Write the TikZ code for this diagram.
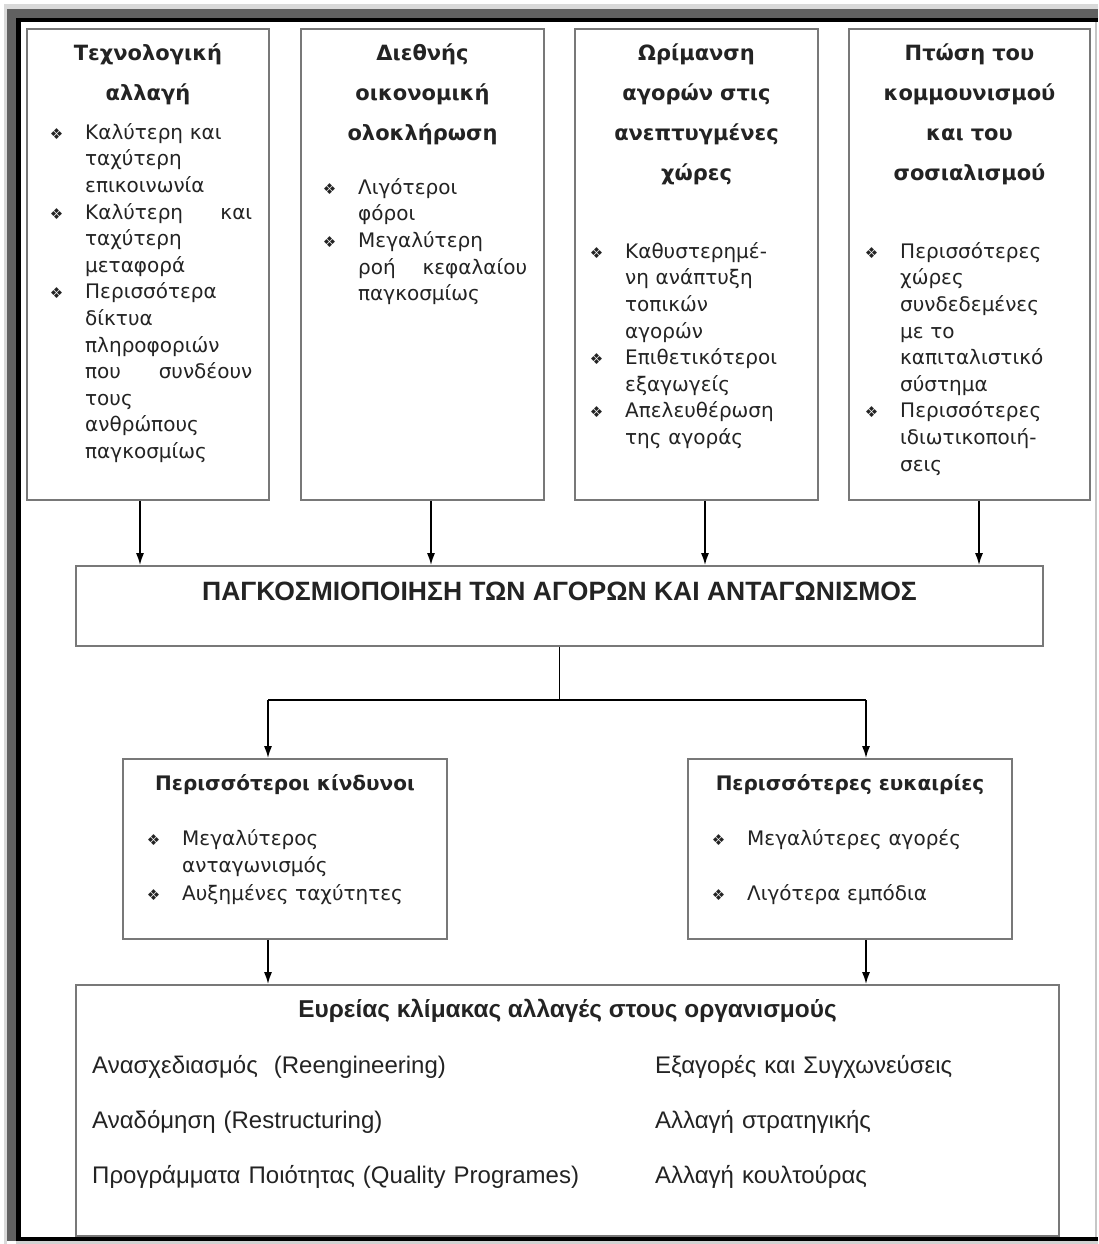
\documentclass[tikz,border=0pt]{standalone}
\usepackage{fontspec}
\setmainfont{DejaVu Sans}
\newfontfamily\arialf{Liberation Sans}
\usetikzlibrary{arrows.meta}
\definecolor{boxgray}{RGB}{120,120,120}
\definecolor{txt}{RGB}{35,35,35}
\newcommand\bsym{{\fontsize{15}{15}\selectfont ❖}}
\newcommand\bl{\leavevmode\llap{\bsym\hspace*{22pt}}}
\newcommand\st{\rule{0pt}{17pt}}
\newcommand\stb{\rule{0pt}{21pt}}
\tikzset{
  box/.style={draw=boxgray, line width=1.6pt, fill=white, inner sep=0pt},
  ttl/.style={anchor=north, inner sep=0pt, align=center, text width=230pt, text=txt,
    font={\bfseries\fontsize{21}{40}\selectfont}},
  body/.style={anchor=north west, inner sep=0pt, align=left, text=txt,
    font={\fontsize{20}{26.6}\selectfont}},
  arr/.style={line width=1.8pt, -{Latex[length=12pt,width=8pt]}},
  ln/.style={line width=1.8pt}
}
\begin{document}
\begin{tikzpicture}[x=1pt,y=-1pt]
\useasboundingbox (0,0) rectangle (1098,1244);
% frame
\fill[gray!30] (4,4) rectangle (1098,9);
\fill[gray!30] (4,4) rectangle (7,1244);
\fill[black!62] (7,9) rectangle (1098,18);
\fill[black!62] (7,9) rectangle (16,1241);
\fill[black] (16,18) rectangle (1098,22.5);
\fill[black] (16,18) rectangle (20.5,1241);
\fill[black] (16,1237) rectangle (1098,1241);
\fill[gray!35] (16,1241) rectangle (1098,1244);
\fill[gray!45] (1095,22) rectangle (1097,1237);

% top boxes
\node[box, minimum width=242pt, minimum height=471pt] (b1) at (148,264.5) {};
\node[box, minimum width=243pt, minimum height=471pt] (b2) at (422.5,264.5) {};
\node[box, minimum width=243pt, minimum height=471pt] (b3) at (696.5,264.5) {};
\node[box, minimum width=241pt, minimum height=471pt] (b4) at (969.5,264.5) {};

\node[ttl] (t1) at (148,42) {\rule{0pt}{18pt}Τεχνολογική\\αλλαγή};
\node[ttl] (t2) at (422.5,42) {\rule{0pt}{18pt}Διεθνής\\οικονομική\\ολοκλήρωση};
\node[ttl] (t3) at (696.5,42) {\rule{0pt}{18pt}Ωρίμανση\\αγορών στις\\ανεπτυγμένες\\χώρες};
\node[ttl] (t4) at (969.5,42) {\rule{0pt}{18pt}Πτώση του\\κομμουνισμού\\και του\\σοσιαλισμού};

\node[body, text width=167pt] (x1) at (85,122) {\st\bl Καλύτερη και\\
ταχύτερη\\
επικοινωνία\\
\bl Καλύτερη\hfill και\\
ταχύτερη\\
μεταφορά\\
\bl Περισσότερα\\
δίκτυα\\
πληροφοριών\\
που\hfill συνδέουν\\
τους\\
ανθρώπους\\
παγκοσμίως};

\node[body, text width=169pt] (x2) at (358,177) {\st\bl Λιγότεροι\\
φόροι\\
\bl Μεγαλύτερη\\
ροή\hfill κεφαλαίου\\
παγκοσμίως};

\node[body, text width=185pt] (x3) at (625,241) {\st\bl Καθυστερημέ-\\
νη ανάπτυξη\\
τοπικών\\
αγορών\\
\bl Επιθετικότεροι\\
εξαγωγείς\\
\bl Απελευθέρωση\\
της αγοράς};

\node[body, text width=185pt] (x4) at (900,241) {\st\bl Περισσότερες\\
χώρες\\
συνδεδεμένες\\
με το\\
καπιταλιστικό\\
σύστημα\\
\bl Περισσότερες\\
ιδιωτικοποιή-\\
σεις};

% main box
\node[box, minimum width=967pt, minimum height=80pt] (main) at (559.5,606) {};
\node[anchor=base, inner sep=0pt, text=txt, font={\arialf\bfseries\fontsize{26.5}{30}\selectfont}] (mt) at (559.5,600) {ΠΑΓΚΟΣΜΙΟΠΟΙΗΣΗ ΤΩΝ ΑΓΟΡΩΝ ΚΑΙ ΑΝΤΑΓΩΝΙΣΜΟΣ};

\draw[arr] ([xshift=-8pt]b1.south) -- ([xshift=-8pt]b1.south |- main.north);
\draw[arr] ([xshift=8.5pt]b2.south) -- ([xshift=8.5pt]b2.south |- main.north);
\draw[arr] ([xshift=8.5pt]b3.south) -- ([xshift=8.5pt]b3.south |- main.north);
\draw[arr] ([xshift=9.5pt]b4.south) -- ([xshift=9.5pt]b4.south |- main.north);

% middle boxes
\node[box, minimum width=324pt, minimum height=180pt] (m1) at (285,849) {};
\node[box, minimum width=324pt, minimum height=180pt] (m2) at (850,849) {};
\node[anchor=base, inner sep=0pt, text=txt, font={\bfseries\fontsize{20}{24}\selectfont}] (mt1) at (285,790) {Περισσότεροι κίνδυνοι};
\node[anchor=base, inner sep=0pt, text=txt, font={\bfseries\fontsize{20}{24}\selectfont}] (mt2) at (850,790) {Περισσότερες ευκαιρίες};
\node[body, text width=250pt, font={\fontsize{20}{27.5}\selectfont}] (y1) at (182,828) {\st\bl Μεγαλύτερος\\
ανταγωνισμός\\
\bl Αυξημένες ταχύτητες};
\node[body, text width=250pt, font={\fontsize{20}{55}\selectfont}] (y2) at (747,828) {\st\bl Μεγαλύτερες αγορές\\
\bl Λιγότερα εμπόδια};

\coordinate (jc) at (559.5,700);
\coordinate (jl) at (268,700);
\coordinate (jr) at (866,700);
\draw[ln] (main.south) -- (jc);
\draw[ln] (jl) -- (jr);
\draw[arr] (jl) -- (jl |- m1.north);
\draw[arr] (jr) -- (jr |- m2.north);

% bottom box
\node[box, minimum width=983pt, minimum height=251pt] (bot) at (567.5,1110.5) {};
\node[anchor=base, inner sep=0pt, text=txt, font={\arialf\bfseries\fontsize{24.4}{28}\selectfont}] (bt) at (567.5,1017) {Ευρείας κλίμακας αλλαγές στους οργανισμούς};
\node[body, text width=540pt, font={\arialf\fontsize{24}{55}\selectfont}] (bl1) at (92,1052) {\stb Ανασχεδιασμός\ \ (Reengineering)\\
Αναδόμηση (Restructuring)\\
Προγράμματα Ποιότητας (Quality Programes)};
\node[body, text width=390pt, font={\arialf\fontsize{24}{55}\selectfont}] (bl2) at (655,1052) {\stb Εξαγορές και Συγχωνεύσεις\\
Αλλαγή στρατηγικής\\
Αλλαγή κουλτούρας};

\draw[arr] ([xshift=-17pt]m1.south) -- ([xshift=-17pt]m1.south |- bot.north);
\draw[arr] ([xshift=16pt]m2.south) -- ([xshift=16pt]m2.south |- bot.north);
\end{tikzpicture}
\end{document}
